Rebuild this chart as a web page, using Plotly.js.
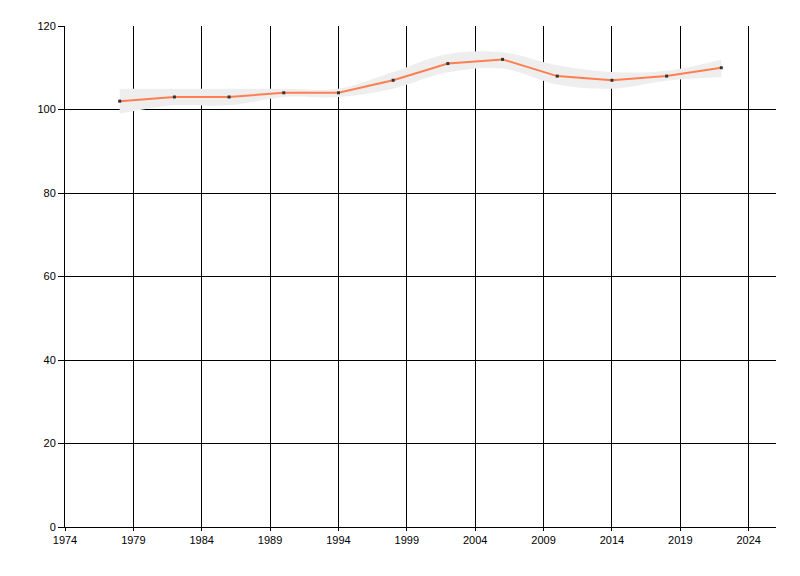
<!DOCTYPE html>
<html>
<head>
<meta charset="utf-8">
<script src="https://cdn.plot.ly/plotly-3.0.1.min.js"></script>
<style>
html, body { margin: 0; padding: 0; background: #fff; }
#chart { width: 800px; height: 576px; }
</style>
</head>
<body>
<div id="chart"></div>
<script>
var years = [1978, 1982, 1986, 1990, 1994, 1998, 2002, 2006, 2010, 2014, 2018, 2022];
var values = [102, 103, 103, 104, 104, 107, 111, 112, 108, 107, 108, 110];
var upper = [105, 105, 105, 105, 105, 109, 113.3, 113.7, 110.6, 109, 109.3, 112];
var lower = [99, 101, 101, 103, 103, 105, 108.9, 109.8, 106, 105, 106.9, 107.8];
var xTicks = [1974, 1979, 1984, 1989, 1994, 1999, 2004, 2009, 2014, 2019, 2024];
var yTicks = [0, 20, 40, 60, 80, 100, 120];

var data = [
	{
		type: 'scatter',
		mode: 'lines',
		x: years,
		y: lower,
		line: {width: 0, shape: 'spline', smoothing: 1},
		hoverinfo: 'skip',
		showlegend: false
	},
	{
		type: 'scatter',
		mode: 'lines',
		x: years,
		y: upper,
		fill: 'tonexty',
		fillcolor: 'rgb(238,238,238)',
		line: {width: 0, shape: 'spline', smoothing: 1},
		hoverinfo: 'skip',
		showlegend: false
	},
	{
		type: 'scatter',
		mode: 'lines+markers',
		x: years,
		y: values,
		line: {color: 'rgb(255,127,80)', width: 2},
		marker: {color: '#333333', size: 3, symbol: 'square'},
		showlegend: false
	}
];

var layout = {
	width: 800,
	height: 576,
	paper_bgcolor: '#ffffff',
	plot_bgcolor: '#ffffff',
	font: {family: 'Liberation Sans, Arial, sans-serif', size: 11, color: '#000000'},
	margin: {l: 65, r: 24, t: 26, b: 49},
	showlegend: false,
	xaxis: {
		range: [1974, 2026],
		tickvals: xTicks,
		ticktext: xTicks.map(String),
		showgrid: true,
		gridcolor: '#000000',
		gridwidth: 1,
		showline: true,
		linecolor: '#000000',
		linewidth: 1,
		zeroline: false,
		ticks: 'outside',
		ticklen: 3,
		tickcolor: '#000000'
	},
	yaxis: {
		range: [0, 120],
		tickvals: yTicks,
		showgrid: true,
		gridcolor: '#000000',
		gridwidth: 1,
		showline: true,
		linecolor: '#000000',
		linewidth: 1,
		zeroline: false,
		ticks: 'outside',
		ticklen: 6,
		tickcolor: '#000000'
	}
};

Plotly.newPlot('chart', data, layout, {staticPlot: true});
</script>
</body>
</html>
